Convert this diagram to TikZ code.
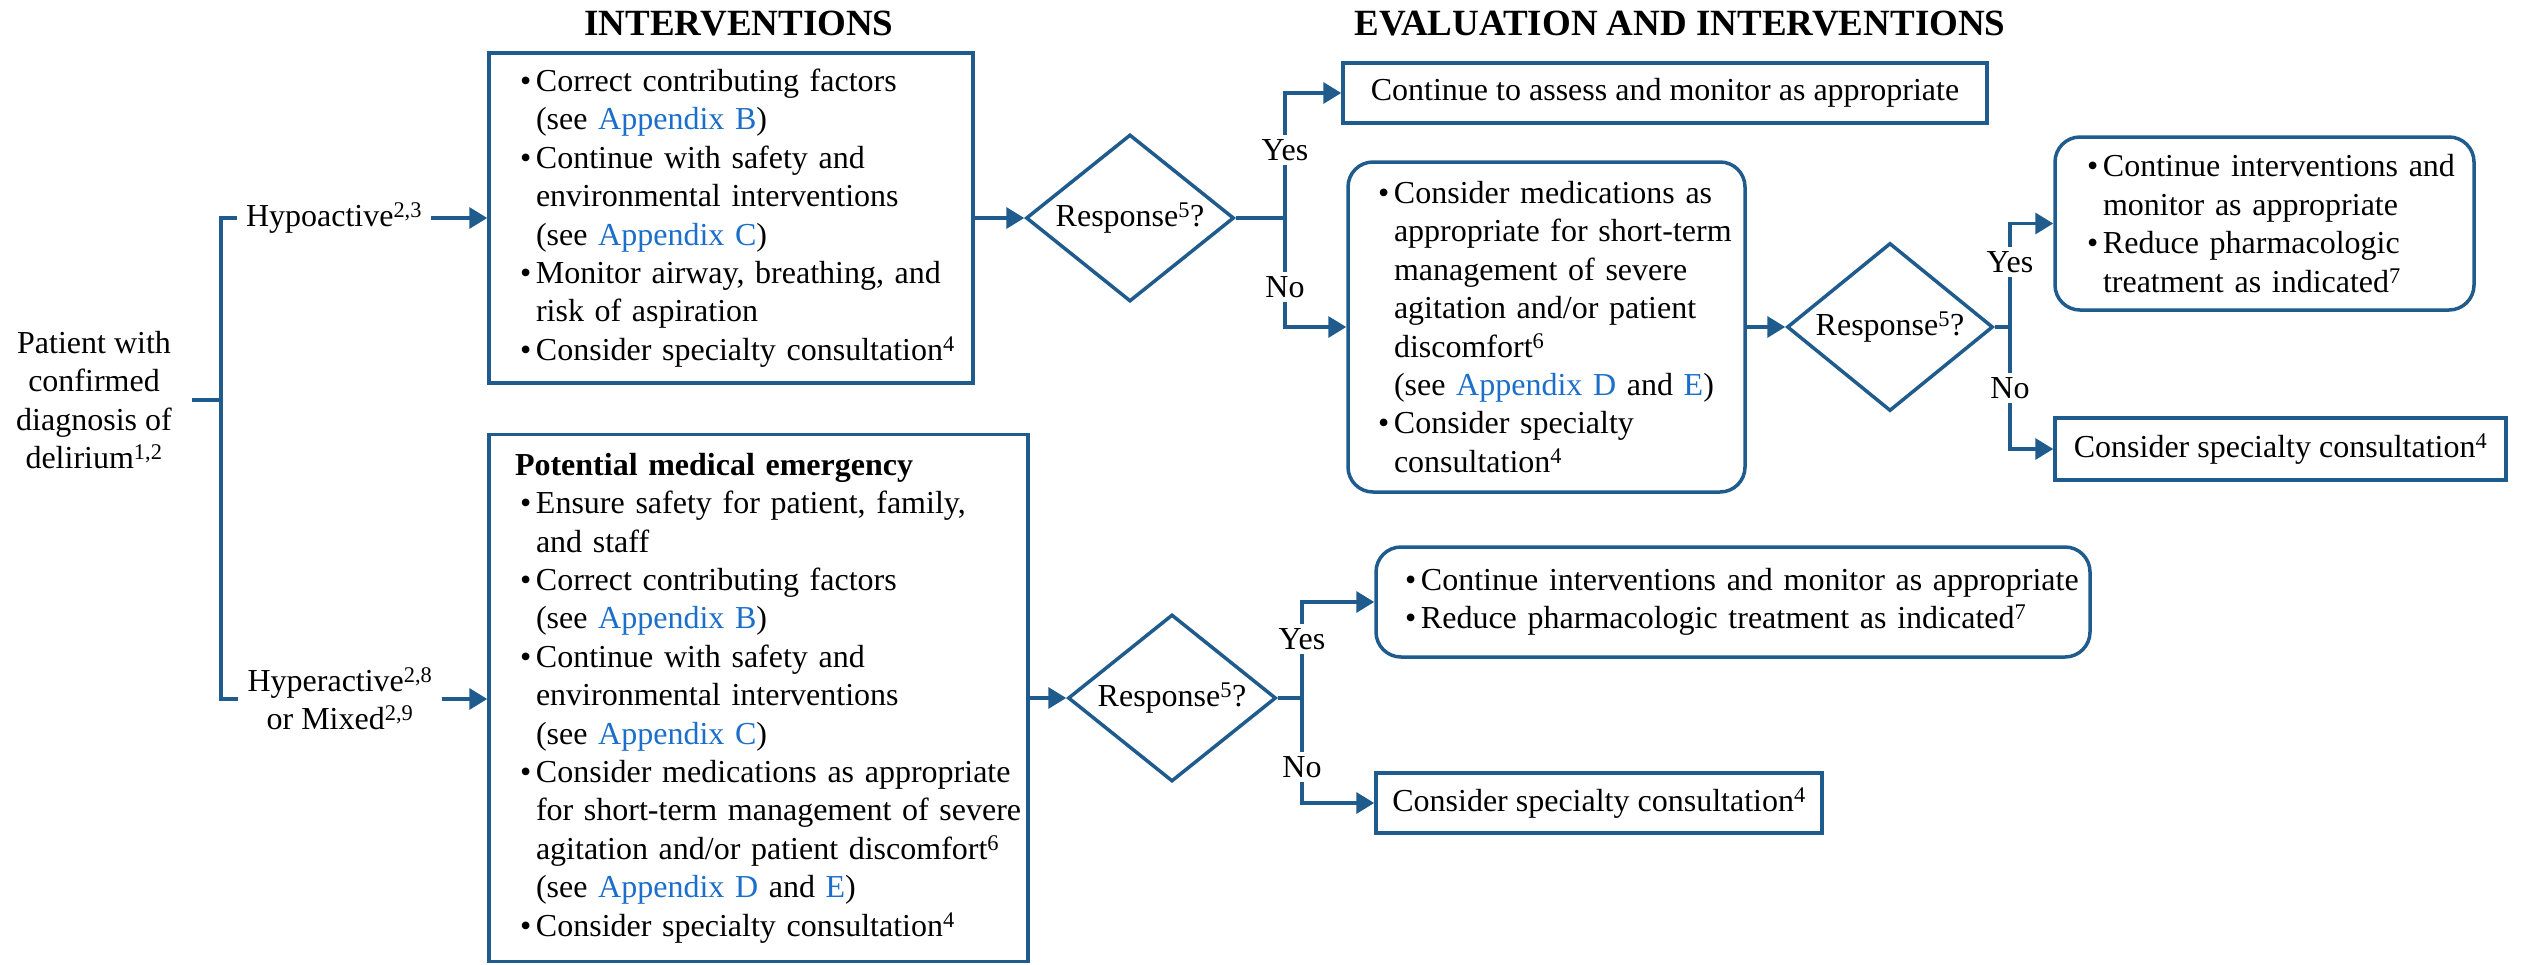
\documentclass[tikz,border=0pt]{standalone}
\usepackage{fontspec}
\setmainfont{Liberation Serif}
\usetikzlibrary{shapes.geometric,arrows.meta}
\definecolor{flow}{HTML}{1F5B8D}
\definecolor{linkblue}{HTML}{1B6FCB}
\newcommand\bodyfont{\fontsize{32}{38.4}\selectfont}
\newcommand\lk[1]{\textcolor{linkblue}{#1}}
\newcommand\bitem[1]{\mbox{\makebox[16pt][l]{\textbullet}#1}}
\newcommand\bcont[1]{\mbox{\hspace*{16pt}#1}}
\newcommand\sps[1]{\textsuperscript{#1}}

\begin{document}
\begin{tikzpicture}[x=1pt,y=-1pt, font=\bodyfont,
  line/.style={draw=flow, line width=3.5pt},
  arr/.style={line, -{Triangle[length=18pt,width=21pt]}},
  box/.style={draw=flow, line width=3.5pt, fill=white, rectangle, inner ysep=0pt},
  rbox/.style={box, rounded corners=25pt},
  listbox/.style={align=left},
  dia/.style={draw=flow, line width=3.5pt, diamond, aspect=1.3, inner sep=0pt,
              minimum width=208pt, minimum height=167pt},
  lbl/.style={inner xsep=9pt, inner ysep=0pt, align=center},
  yn/.style={fill=white, inner xsep=2pt, inner ysep=4pt},
  head/.style={font=\fontsize{37}{44}\selectfont\bfseries, anchor=base}]

\useasboundingbox (0,0) rectangle (2521,964);

% column headings
\node[head] (t1) at (739,35) {INTERVENTIONS};
\node[head] (t2) at (1680,35) {EVALUATION AND INTERVENTIONS};

% starting point and the two subtypes
\node[lbl, inner xsep=20pt] (pat) at (94,400) {Patient with\\confirmed\\diagnosis of\\delirium\sps{1,2}};
\node[lbl] (hypo) at (334,218) {Hypoactive\sps{2,3}};
\node[lbl, font=\fontsize{32}{38}\selectfont] (hyper) at (340,699) {Hyperactive\sps{2,8}\\or Mixed\sps{2,9}};

% hypoactive branch
\node[box, listbox, text width=422pt, inner xsep=31pt, minimum height=330pt] (b1) at (731,218) {%
\bitem{Correct contributing factors}\\
\bcont{(see \lk{Appendix B})}\\
\bitem{Continue with safety and}\\
\bcont{environmental interventions}\\
\bcont{(see \lk{Appendix C})}\\
\bitem{Monitor airway, breathing, and}\\
\bcont{risk of aspiration}\\
\bitem{Consider specialty consultation\sps{4}}};

\node[dia] (d1) at (1130,218) {Response\sps{5}?};

\node[box, minimum width=644pt, minimum height=60pt] (assess) at (1665,93)
  {Continue to assess and monitor as appropriate};

\node[rbox, listbox, text width=337pt, inner xsep=30pt, minimum height=330pt] (b2) at (1546.5,327) {%
\bitem{Consider medications as}\\
\bcont{appropriate for short-term}\\
\bcont{management of severe}\\
\bcont{agitation and/or patient}\\
\bcont{discomfort\sps{6}}\\
\bcont{(see \lk{Appendix D} and \lk{E})}\\
\bitem{Consider specialty}\\
\bcont{consultation\sps{4}}};

\node[dia, minimum width=206pt, minimum height=168pt] (d2) at (1890,327) {Response\sps{5}?};

\node[rbox, listbox, text width=355pt, inner xsep=32pt, minimum height=173pt] (tr) at (2264.5,223.5) {%
\bitem{Continue interventions and}\\
\bcont{monitor as appropriate}\\
\bitem{Reduce pharmacologic}\\
\bcont{treatment as indicated\sps{7}}};

\node[box, minimum width=451pt, minimum height=62pt] (sc1) at (2280.5,449)
  {Consider specialty consultation\sps{4}};

% hyperactive / mixed branch
\node[box, listbox, text width=477pt, inner xsep=31pt, minimum height=527pt] (b3) at (758.5,698) {%
\mbox{\hspace*{-5pt}\textbf{Potential medical emergency}}\\
\bitem{Ensure safety for patient, family,}\\
\bcont{and staff}\\
\bitem{Correct contributing factors}\\
\bcont{(see \lk{Appendix B})}\\
\bitem{Continue with safety and}\\
\bcont{environmental interventions}\\
\bcont{(see \lk{Appendix C})}\\
\bitem{Consider medications as appropriate}\\
\bcont{for short-term management of severe}\\
\bcont{agitation and/or patient discomfort\sps{6}}\\
\bcont{(see \lk{Appendix D} and \lk{E})}\\
\bitem{Consider specialty consultation\sps{4}}};

\node[dia] (d3) at (1172,698) {Response\sps{5}?};

\node[rbox, listbox, text width=656pt, inner xsep=29pt, minimum height=110pt,
      font=\fontsize{32}{38}\selectfont] (b4) at (1733,602) {%
\bitem{Continue interventions and monitor as appropriate}\\
\bitem{Reduce pharmacologic treatment as indicated\sps{7}}};

\node[box, minimum width=446pt, minimum height=60pt] (b5) at (1599,803)
  {Consider specialty consultation\sps{4}};

% bracket from the starting point
\coordinate (brk) at (221,400);
\draw[line] (pat.east) -- (pat.east -| brk);
\draw[line] (hypo.west) -| (brk) |- (hyper.west);
\draw[arr] (hypo.east) -- (b1.west);
\draw[arr] (hyper.east) -- (hyper.east -| b3.west);

% first decision
\draw[arr] (b1.east) -- (d1.west);
\coordinate (j1) at (1285,218);
\draw[line] (d1.east) -- (j1);
\draw[arr] (j1) |- (assess.west);
\draw[arr] (j1) |- (b2.west);
\node[yn] (yes1) at (1285,150) {Yes};
\node[yn] (no1) at (1285,287) {No};

% second decision
\draw[arr] (b2.east) -- (d2.west);
\coordinate (j2) at (2010,327);
\draw[line] (d2.east) -- (j2);
\draw[arr] (j2) |- (tr.west);
\draw[arr] (j2) |- (sc1.west);
\node[yn] (yes2) at (2010,262) {Yes};
\node[yn] (no2) at (2010,388) {No};

% third decision
\draw[arr] (b3.east) -- (d3.west);
\coordinate (j3) at (1302,698);
\draw[line] (d3.east) -- (j3);
\draw[arr] (j3) |- (b4.west);
\draw[arr] (j3) |- (b5.west);
\node[yn] (yes3) at (1302,639) {Yes};
\node[yn] (no3) at (1302,767) {No};
\end{tikzpicture}
\end{document}
